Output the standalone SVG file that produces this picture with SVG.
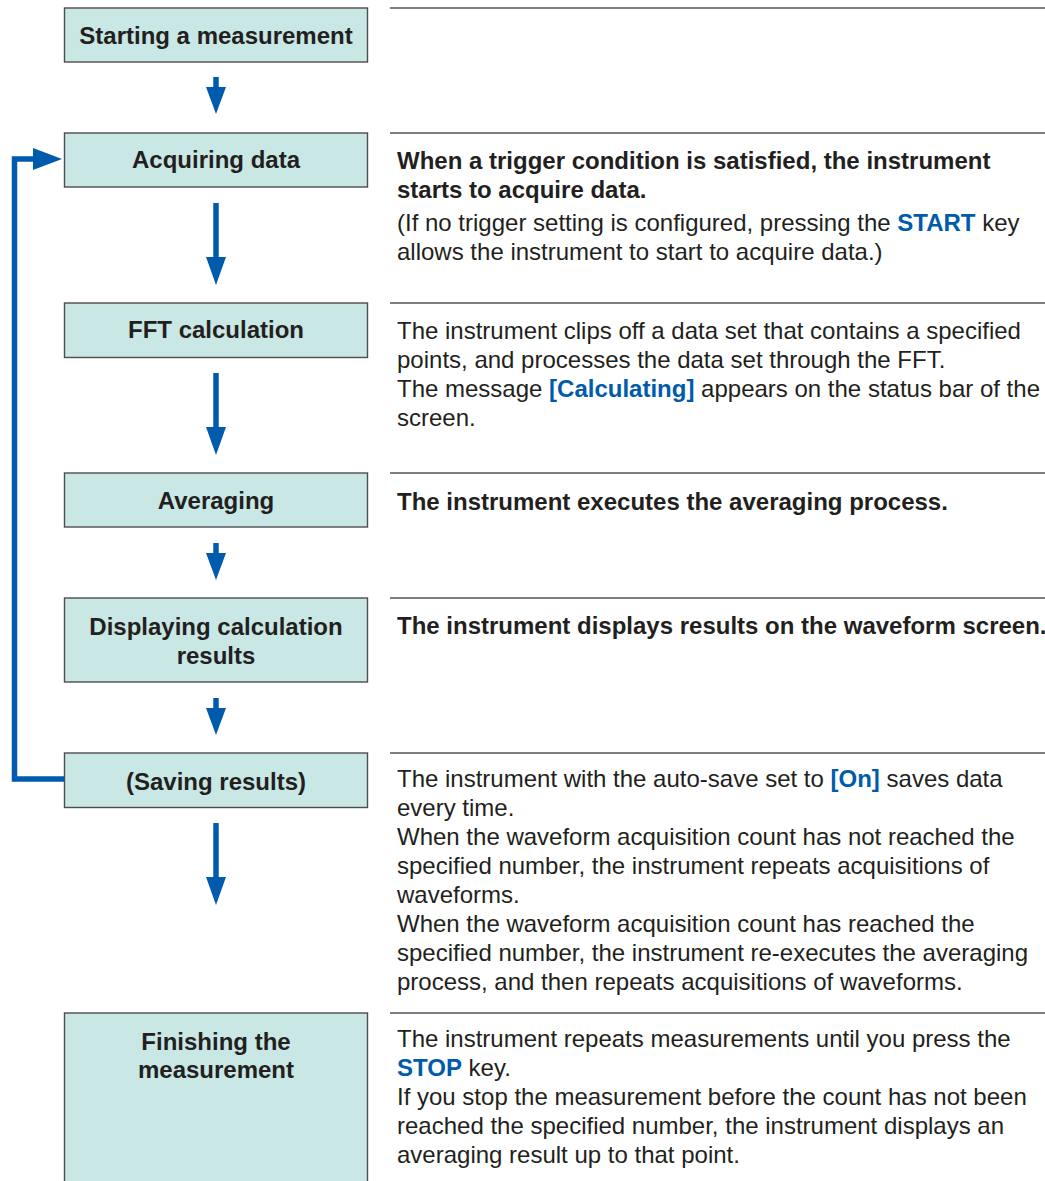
<svg xmlns="http://www.w3.org/2000/svg" width="1045" height="1181" viewBox="0 0 1045 1181">
<defs>
<style>
.box{fill:#c9e7e4;stroke:#4d4d4d;stroke-width:1.4}
.sep{stroke:#555;stroke-width:1.4;fill:none}
.lbl{font-family:"Liberation Sans",Arial,sans-serif;font-size:24px;font-weight:bold;fill:#231f20;text-anchor:middle}
.txt{font-family:"Liberation Sans",Arial,sans-serif;font-size:24px;fill:#231f20}
.bd{font-weight:bold}
.bl{font-weight:bold;fill:#005bac}
.shaft{stroke:#005bac;stroke-width:5.5;fill:none}
.head{fill:#005bac}
</style>
</defs>
<rect width="1045" height="1181" fill="#ffffff"/>
<g id="separators">
<line class="sep" x1="390" y1="8" x2="1045" y2="8"/>
<line class="sep" x1="390" y1="133" x2="1045" y2="133"/>
<line class="sep" x1="390" y1="303" x2="1045" y2="303"/>
<line class="sep" x1="390" y1="473" x2="1045" y2="473"/>
<line class="sep" x1="390" y1="598" x2="1045" y2="598"/>
<line class="sep" x1="390" y1="753" x2="1045" y2="753"/>
<line class="sep" x1="390" y1="1013" x2="1045" y2="1013"/>
</g>
<g id="node-start">
<rect class="box" x="64.5" y="8" width="303" height="54"/>
<text class="lbl" x="216" y="44">Starting a measurement</text>
</g>
<g id="node-acquire">
<rect class="box" x="64.5" y="133" width="303" height="54"/>
<text class="lbl" x="216" y="168">Acquiring data</text>
<text class="txt bd" x="397" y="169">When a trigger condition is satisfied, the instrument</text>
<text class="txt bd" x="397" y="198">starts to acquire data.</text>
<text class="txt" x="397" y="231">(If no trigger setting is configured, pressing the <tspan class="bl">START</tspan> key</text>
<text class="txt" x="397" y="260">allows the instrument to start to acquire data.)</text>
</g>
<g id="node-fft">
<rect class="box" x="64.5" y="303" width="303" height="54.5"/>
<text class="lbl" x="216" y="338">FFT calculation</text>
<text class="txt" x="397" y="339">The instrument clips off a data set that contains a specified</text>
<text class="txt" x="397" y="368">points, and processes the data set through the FFT.</text>
<text class="txt" x="397" y="397">The message <tspan class="bl">[Calculating]</tspan> appears on the status bar of the</text>
<text class="txt" x="397" y="426">screen.</text>
</g>
<g id="node-averaging">
<rect class="box" x="64.5" y="473" width="303" height="54"/>
<text class="lbl" x="216" y="509">Averaging</text>
<text class="txt bd" x="397" y="510">The instrument executes the averaging process.</text>
</g>
<g id="node-display">
<rect class="box" x="64.5" y="598" width="303" height="84"/>
<text class="lbl" x="216" y="635">Displaying calculation</text>
<text class="lbl" x="216" y="664">results</text>
<text class="txt bd" x="397" y="634">The instrument displays results on the waveform screen.</text>
</g>
<g id="node-saving">
<rect class="box" x="64.5" y="753" width="303" height="54.5"/>
<text class="lbl" x="216" y="790">(Saving results)</text>
<text class="txt" x="397" y="787">The instrument with the auto-save set to <tspan class="bl">[On]</tspan> saves data</text>
<text class="txt" x="397" y="816">every time.</text>
<text class="txt" x="397" y="845">When the waveform acquisition count has not reached the</text>
<text class="txt" x="397" y="874">specified number, the instrument repeats acquisitions of</text>
<text class="txt" x="397" y="903">waveforms.</text>
<text class="txt" x="397" y="932">When the waveform acquisition count has reached the</text>
<text class="txt" x="397" y="961">specified number, the instrument re-executes the averaging</text>
<text class="txt" x="397" y="990">process, and then repeats acquisitions of waveforms.</text>
</g>
<g id="node-finish">
<rect class="box" x="64.5" y="1013" width="303" height="175"/>
<text class="lbl" x="216" y="1050">Finishing the</text>
<text class="lbl" x="216" y="1078">measurement</text>
<text class="txt" x="397" y="1047">The instrument repeats measurements until you press the</text>
<text class="txt" x="397" y="1076"><tspan class="bl">STOP</tspan> key.</text>
<text class="txt" x="397" y="1105">If you stop the measurement before the count has not been</text>
<text class="txt" x="397" y="1134">reached the specified number, the instrument displays an</text>
<text class="txt" x="397" y="1163">averaging result up to that point.</text>
</g>
<g id="connectors">
<line class="shaft" x1="216" y1="77" x2="216" y2="90"/>
<polygon class="head" points="206,87 226,87 216,114"/>
<line class="shaft" x1="216" y1="203" x2="216" y2="260"/>
<polygon class="head" points="206,257 226,257 216,285"/>
<line class="shaft" x1="216" y1="373" x2="216" y2="430"/>
<polygon class="head" points="206,427 226,427 216,455"/>
<line class="shaft" x1="216" y1="543" x2="216" y2="556"/>
<polygon class="head" points="206,553 226,553 216,580"/>
<line class="shaft" x1="216" y1="698" x2="216" y2="711"/>
<polygon class="head" points="206,708 226,708 216,735"/>
<line class="shaft" x1="216" y1="823" x2="216" y2="880"/>
<polygon class="head" points="206,877 226,877 216,905"/>
<polyline class="shaft" stroke-width="5" points="64,779 14.5,779 14.5,159 36,159"/>
<polygon class="head" points="33,148 33,170 62,159"/>
</g>
</svg>
